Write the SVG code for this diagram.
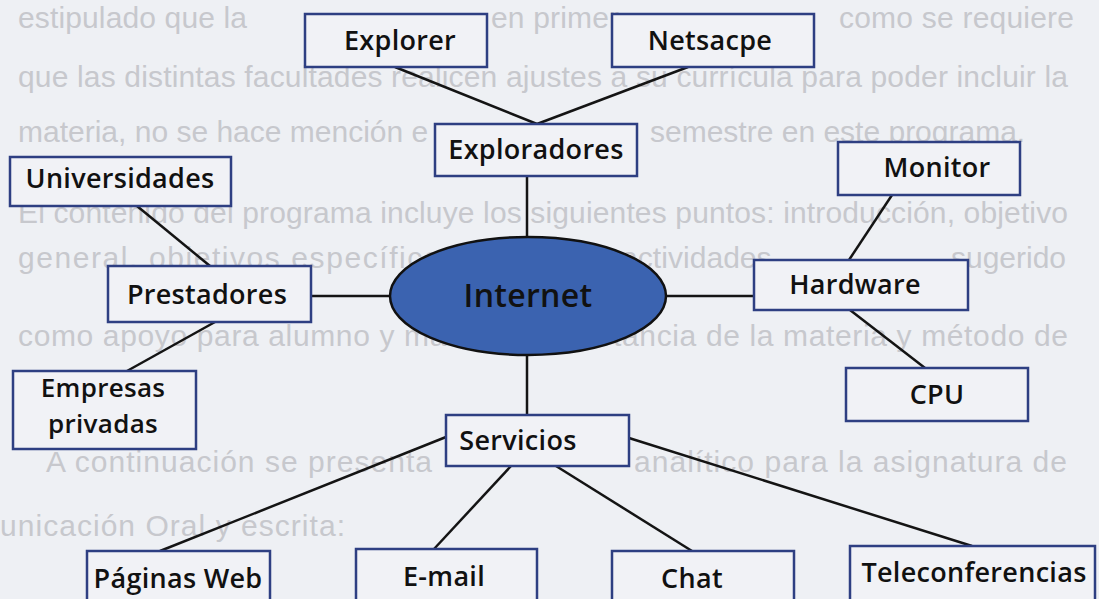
<svg xmlns="http://www.w3.org/2000/svg" width="1099" height="599" viewBox="0 0 1099 599">
<style>
.bg{font-family:"Liberation Sans",Arial,sans-serif;font-size:30px;fill:#c7c8cd}
.box{fill:#f1f2f6;stroke:#2e3f82;stroke-width:2.5}
.lbl{font-family:"Open Sans","DejaVu Sans",sans-serif;font-weight:600;font-size:27px;fill:#111;text-anchor:middle;letter-spacing:0.3px}
.ln{stroke:#141414;stroke-width:2.5;fill:none}
</style>
<rect width="1099" height="599" fill="#eef0f4"/>
<g id="background-text">
<text class="bg" x="18" y="28" textLength="229" lengthAdjust="spacing">estipulado que la</text>
<text class="bg" x="491" y="28" textLength="128" lengthAdjust="spacing">en primer</text>
<text class="bg" x="839" y="28" textLength="235" lengthAdjust="spacing">como se requiere</text>
<text class="bg" x="18" y="87" textLength="1050" lengthAdjust="spacing">que las distintas facultades realicen ajustes a su currícula para poder incluir la</text>
<text class="bg" x="18" y="142">materia, no se hace mención e</text>
<text class="bg" x="650" y="142">semestre en este programa.</text>
<text class="bg" x="18" y="223" textLength="1050" lengthAdjust="spacing">El contenido del programa incluye los siguientes puntos: introducción, objetivo</text>
<text class="bg" x="18" y="268" textLength="449" lengthAdjust="spacing">general, objetivos específicos,</text>
<text class="bg" x="621" y="268" textLength="159" lengthAdjust="spacing">actividades,</text>
<text class="bg" x="951" y="268" textLength="115" lengthAdjust="spacing">sugerido</text>
<text class="bg" x="18" y="346" textLength="1050" lengthAdjust="spacing">como apoyo para alumno y maestro, importancia de la materia y método de</text>
<text class="bg" x="46" y="472" textLength="386" lengthAdjust="spacing">A continuación se presenta</text>
<text class="bg" x="634" y="472" textLength="433" lengthAdjust="spacing">analítico para la asignatura de</text>
<text class="bg" x="0" y="536" textLength="345" lengthAdjust="spacing">unicación Oral y escrita:</text>
</g>
<g id="connectors">
<line class="ln" x1="395" y1="67" x2="537" y2="124"/>
<line class="ln" x1="688" y1="67" x2="537" y2="124"/>
<line class="ln" x1="527" y1="176" x2="527" y2="237"/>
<line class="ln" x1="137" y1="206" x2="210" y2="266"/>
<line class="ln" x1="311" y1="296" x2="390" y2="296"/>
<line class="ln" x1="215" y1="322" x2="127" y2="371"/>
<line class="ln" x1="666" y1="296" x2="754" y2="296"/>
<line class="ln" x1="892" y1="195" x2="849" y2="260"/>
<line class="ln" x1="850" y1="310" x2="925" y2="368"/>
<line class="ln" x1="527" y1="355" x2="527" y2="415"/>
<line class="ln" x1="446" y1="437" x2="160" y2="551"/>
<line class="ln" x1="511" y1="466" x2="434" y2="549"/>
<line class="ln" x1="556" y1="466" x2="692" y2="551"/>
<line class="ln" x1="629" y1="438" x2="972" y2="546"/>
</g>
<g id="node-explorer"><rect class="box" x="305" y="14" width="182" height="53"/><text class="lbl" x="400" y="50">Explorer</text></g>
<g id="node-netsacpe"><rect class="box" x="612" y="14" width="202" height="53"/><text class="lbl" x="710" y="50">Netsacpe</text></g>
<g id="node-exploradores"><rect class="box" x="435" y="124" width="202" height="52"/><text class="lbl" x="536" y="159">Exploradores</text></g>
<g id="node-universidades"><rect class="box" x="10" y="157" width="221" height="49"/><text class="lbl" x="120" y="188">Universidades</text></g>
<g id="node-monitor"><rect class="box" x="838" y="142" width="182" height="53"/><text class="lbl" x="937" y="177">Monitor</text></g>
<g id="node-prestadores"><rect class="box" x="108" y="266" width="203" height="56"/><text class="lbl" x="207" y="304">Prestadores</text></g>
<g id="node-internet"><ellipse cx="528" cy="296" rx="138" ry="59" fill="#3b63b0" stroke="#111" stroke-width="2.5"/><text class="lbl" x="528" y="307" style="font-size:32px;font-weight:600">Internet</text></g>
<g id="node-hardware"><rect class="box" x="754" y="260" width="214" height="50"/><text class="lbl" x="855" y="294">Hardware</text></g>
<g id="node-empresas"><rect class="box" x="13" y="371" width="183" height="78"/><text class="lbl" x="103" y="397" style="font-size:26px">Empresas</text><text class="lbl" x="103" y="433" style="font-size:26px">privadas</text></g>
<g id="node-cpu"><rect class="box" x="846" y="368" width="182" height="53"/><text class="lbl" x="937" y="404">CPU</text></g>
<g id="node-servicios"><rect class="box" x="446" y="415" width="183" height="51"/><text class="lbl" x="518" y="450">Servicios</text></g>
<g id="node-paginas"><rect class="box" x="87" y="551" width="183" height="60"/><text class="lbl" x="178" y="588">Páginas Web</text></g>
<g id="node-email"><rect class="box" x="356" y="549" width="181" height="62"/><text class="lbl" x="444" y="586">E-mail</text></g>
<g id="node-chat"><rect class="box" x="612" y="551" width="182" height="60"/><text class="lbl" x="692" y="588">Chat</text></g>
<g id="node-teleconferencias"><rect class="box" x="850" y="546" width="245" height="65"/><text class="lbl" x="974" y="582">Teleconferencias</text></g>
</svg>
